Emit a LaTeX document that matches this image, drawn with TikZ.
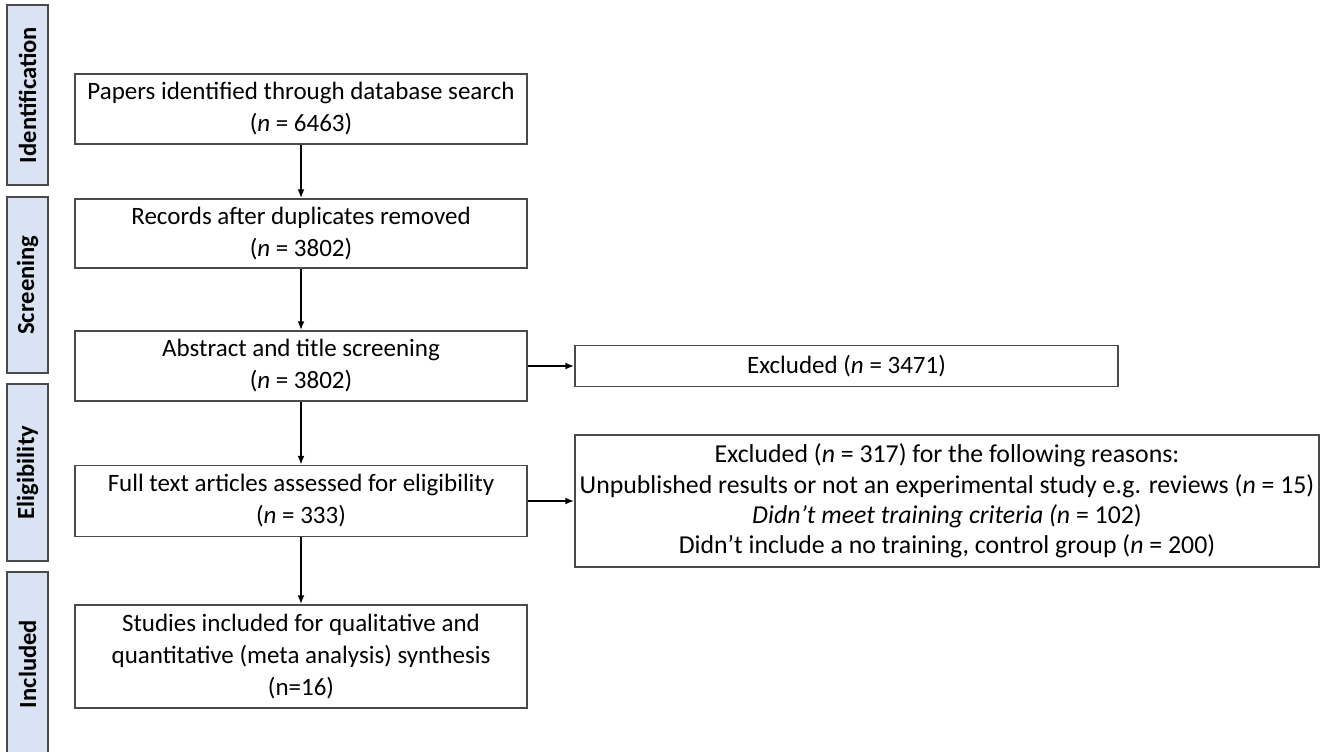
\documentclass[tikz,border=0pt]{standalone}
\usepackage{fontspec}
\setmainfont{Carlito}
\usetikzlibrary{arrows.meta}
\definecolor{sidefill}{HTML}{DAE3F3}
\definecolor{edgegray}{HTML}{4A4A4A}
\tikzset{
  box/.style={draw=edgegray, line width=0.75pt, align=center, inner sep=0pt,
    font=\fontsize{12.5}{16}\selectfont},
  side/.style={draw=edgegray, fill=sidefill, line width=0.85pt, rotate=90,
    inner sep=0pt, minimum height=20.5pt, font=\fontsize{12.3}{14}\selectfont\bfseries},
  arr/.style={-{Latex[length=4.5pt,width=3.5pt]}, line width=0.95pt},
}
\begin{document}
\begin{tikzpicture}[x=0.5pt,y=-0.5pt]
\useasboundingbox (0,0) rectangle (1324,751);

% phases on the left
\node[side, minimum width=90pt] (ident) at (27.5,95) {Identification};
\node[side, minimum width=88pt] (screen) at (27.5,285) {Screening};
\node[side, minimum width=88.5pt] (elig) at (27.5,472.5) {Eligibility};
\node[side, minimum width=92pt] (incl) at (27.5,664) {Included};

% main column
\node[box, minimum width=226pt, minimum height=35pt] (papers) at (301,109)
  {Papers identified through database search\\(\textit{n} = 6463)};
\node[box, minimum width=226pt, minimum height=34.5pt] (dupl) at (301,233.5)
  {Records after duplicates removed\\(\textit{n} = 3802)};
\node[box, minimum width=226pt, minimum height=35pt] (abstr) at (301,366)
  {Abstract and title screening\\(\textit{n} = 3802)};
\node[box, minimum width=226pt, minimum height=35.5pt] (fulltxt) at (301,501)
  {Full text articles assessed for eligibility\\(\textit{n} = 333)};
\node[box, minimum width=226pt, minimum height=51.5pt] (studies) at (301,656.5)
  {Studies included for qualitative and\\quantitative (meta analysis) synthesis\\(n=16)};

% exclusions
\node[box, minimum width=271.5pt, minimum height=20.5pt] (excl1) at (846.5,366)
  {Excluded (\textit{n} = 3471)};
\node[box, minimum width=372pt, minimum height=66pt,
  font=\fontsize{12.9}{15.2}\selectfont] (excl2) at (947,501)
  {Excluded (\textit{n} = 317) for the following reasons:\\
   Unpublished results or not an experimental study e.g. reviews (\textit{n} = 15)\\
   \textit{Didn’t meet training criteria (n} = 102)\\
   Didn’t include a no training, control group (\textit{n} = 200)};

\draw[arr] (papers) -- (dupl);
\draw[arr] (dupl) -- (abstr);
\draw[arr] (abstr) -- (fulltxt);
\draw[arr] (fulltxt) -- (studies);
\draw[arr] (abstr) -- (excl1);
\draw[arr] (fulltxt) -- (excl2);
\end{tikzpicture}
\end{document}
